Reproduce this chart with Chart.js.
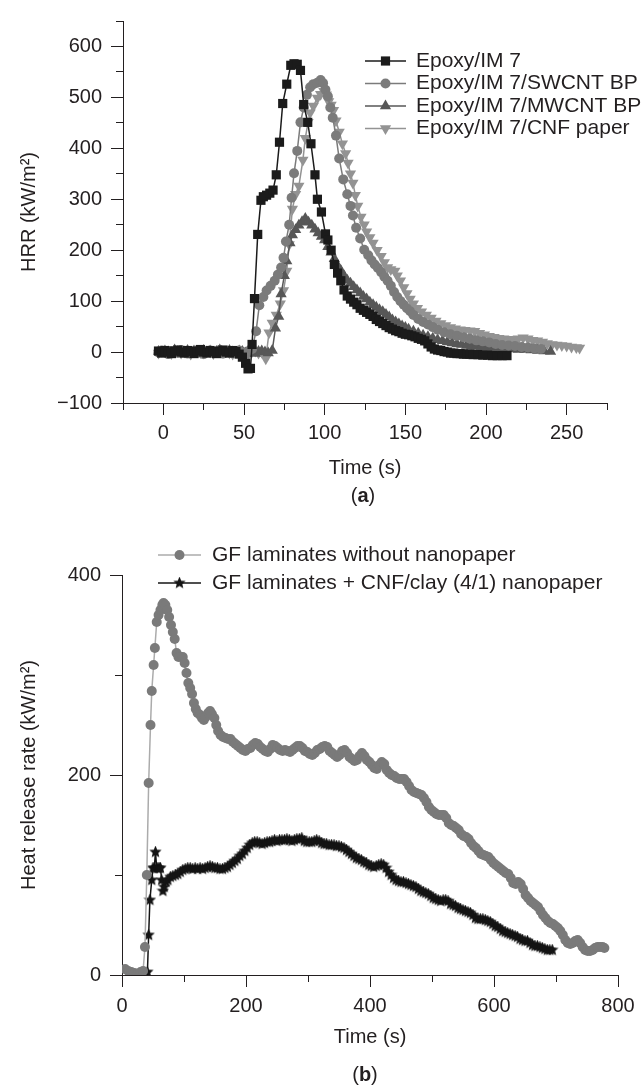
<!DOCTYPE html>
<html>
<head>
<meta charset="utf-8">
<title>HRR curves</title>
<script src="https://cdn.jsdelivr.net/npm/chart.js@4/dist/chart.umd.min.js"></script>
<style>
  html, body { margin: 0; padding: 0; background: #fff; }
  #wrapA { position: absolute; left: 0; top: 0; width: 642px; height: 520px; }
  #wrapB { position: absolute; left: 0; top: 540px; width: 642px; height: 546px; }
</style>
</head>
<body>
<div id="wrapA"><canvas id="chartA" width="642" height="520"></canvas></div>
<div id="wrapB"><canvas id="chartB" width="642" height="546"></canvas></div>
<script>
// ---------- panel (a): HRR vs time, epoxy/IM7 laminates ----------
const timeEpoxy = [
  -3, -1, 1, 3, 5, 7, 9, 11, 13, 15,
  17, 19, 21, 23, 25, 27, 29, 31, 33, 35,
  37, 39, 41, 43, 45, 47, 49, 51,
  52.5, 54, 55, 56.5, 58.5, 60.5, 62, 64, 66, 68,
  70, 72, 74, 76.5, 79, 81, 83, 85, 87, 89.5,
  91.5, 94, 95.5, 98, 100.5,
  102, 104, 106, 108, 110, 112, 114, 116, 118, 120,
  122, 124, 126, 128, 130, 132, 134, 136, 138, 140,
  142, 144, 146, 148, 150, 152, 154, 156, 158, 160,
  162, 164, 166, 168, 170, 172, 174, 176, 178, 180,
  182, 184, 186, 188, 190, 192,
  195, 198, 201, 204, 207, 210, 213
];
const hrrEpoxy = [
  2, -2, 3, 0, -3, 2, 4, 0, -2, 3,
  1, -3, 2, 5, 0, -2, 3, 1, -3, 2,
  4, 0, -2, 3, 1, -4, -10, -22,
  -33, -32, 15, 105, 231, 298, 305, 308, 312, 318,
  348, 412, 488, 526, 563, 566, 565, 553, 486, 451,
  409, 348, 300, 275, 232,
  220, 200, 172, 155, 140, 122, 110, 104, 98, 93,
  86, 82, 78, 74, 70, 64, 60, 56, 52, 48,
  45, 42, 40, 37, 35, 34, 32, 30, 27, 25,
  22, 16, 10, 6, 4, 3, 1, 0, -2, -2,
  -3, -3, -4, -4, -4, -5,
  -5, -6, -6, -7, -7, -7, -7
];

const timeSwcnt = [
  -3, -1, 1, 3, 5, 7, 9, 11, 13, 15,
  17, 19, 21, 23, 25, 27, 29, 31, 33, 35,
  37, 39, 41, 43, 45, 47, 49, 51, 53, 55,
  57.5, 59.5, 62, 64, 66.5, 69, 71, 73, 74.5, 76,
  78, 79.5, 81, 83, 85, 87, 89, 91, 93, 95.5,
  97.5, 99, 100.5, 102, 103.5, 105, 107, 109, 111.5, 114,
  116, 117.5, 119.5, 122, 124.5, 127, 129, 131, 133, 135,
  137, 139, 141, 143, 145, 147, 149, 151, 153, 155,
  158, 161, 164, 167, 170, 174, 178, 182, 186, 190,
  194, 198, 202, 206, 210, 214, 218, 222, 226, 230,
  234
];
const hrrSwcnt = [
  -1, 3, 0, -4, 2, 1, -2, 4, 0, -3,
  2, -1, 3, 0, -4, 1, 3, -2, 0, 4,
  -3, 1, 2, -2, 0, 3, -1, -4, 2, 6,
  41, 92, 108, 121, 130, 140, 152, 166, 185, 217,
  250, 303, 351, 395, 451, 480, 505, 520, 526, 529,
  534, 528, 515, 502, 480, 460, 425, 380, 339, 310,
  287, 268, 244, 223, 201, 190, 180, 172, 165, 157,
  148, 140, 130, 118, 108, 100, 93, 86, 80, 73,
  65, 59, 54, 49, 44, 39, 35, 32, 29, 26,
  23, 21, 19, 16, 14, 13, 12, 10, 9, 7,
  6
];

const timeMwcnt = [
  -3, -1, 1, 3, 5, 7, 9, 11, 13, 15,
  17, 19, 21, 23, 25, 27, 29, 31, 33, 35,
  37, 39, 41, 43, 45, 47, 49, 51, 53, 55,
  57, 59, 61, 63,
  65, 67.5, 69.5, 71.5, 73, 75, 76.5, 78.5, 80, 82,
  84, 86, 88, 90, 92, 94, 96, 98, 100, 102,
  104, 106, 108, 110, 112, 114, 116, 118, 120, 122,
  124, 126, 128, 130, 132, 134, 136, 138, 140, 142,
  144, 146, 148, 150, 152,
  155, 158, 161, 164, 167, 170, 173, 176, 179, 182,
  185, 188, 191, 194, 197, 200,
  204, 208, 212, 216, 220, 224, 228, 232, 236, 240
];
const hrrMwcnt = [
  1, -3, 2, 0, -2, 4, 1, -3, 0, 3,
  -2, 2, -1, -4, 3, 0, 2, -3, 1, 4,
  -1, -2, 3, 0, -3, 2, 1, -2, 4, 0,
  -3, 1, 2, 0,
  -2, 3, 47, 70, 114, 150, 179, 214, 230, 240,
  249, 256, 262, 255, 249, 241, 234, 227, 220, 207,
  196, 183, 170, 160, 150, 141, 135, 128, 122, 116,
  109, 104, 98, 93, 88, 83, 79, 74, 69, 63,
  59, 55, 51, 48, 45,
  41, 37, 33, 30, 27, 24, 22, 20, 18, 16,
  15, 13, 12, 11, 10, 9,
  8, 7, 6, 6, 5, 5, 4, 3, 2, 1
];

const timeCnf = [
  -3, -1, 1, 3, 5, 7, 9, 11, 13, 15,
  17, 19, 21, 23, 25, 27, 29, 31, 33, 35,
  37, 39, 41, 43, 45, 47, 49, 51, 53, 55,
  57, 59, 61,
  63.5, 65.5, 67.5, 70, 72.5, 74.5, 76.5, 78, 80, 82,
  84, 86.5, 88, 89.7, 91, 93, 95.5, 97.5, 99.5, 101,
  102.5, 104, 105.5, 107, 109, 111, 113, 114.5, 116, 117.5,
  119, 120.5, 122.5, 124.5, 126, 128, 130, 132.5, 135, 137,
  139, 141, 143.5, 145, 147, 149, 151, 153, 155, 157.5,
  160, 163, 166, 169, 172, 175, 178, 181, 184, 187,
  190, 193, 196, 199, 202, 205, 208, 211, 214, 217,
  220, 223, 226, 229, 232, 235, 238, 241, 244, 247,
  250, 253, 256, 258
];
const hrrCnf = [
  -2, 2, 4, -1, -3, 1, 3, -2, 0, 2,
  -4, 1, 3, -1, -2, 4, 0, -3, 2, 1,
  -1, 3, -2, -4, 2, 0, 3, -1, -3, 1,
  2, -2, 0,
  -13, 38, 57, 73, 95, 121, 159, 211, 281, 310,
  326, 377, 420, 451, 470, 483, 499, 506, 512, 505,
  492, 485, 475, 454, 432, 409, 390, 371, 350, 332,
  308, 287, 265, 250, 236, 225, 214, 200, 188, 176,
  166, 162, 159, 150, 140, 127, 115, 104, 95, 86,
  79, 73, 67, 61, 56, 52, 48, 46, 44, 43,
  42, 41, 37, 34, 31, 29, 27, 26, 25, 24,
  26, 28, 26, 23, 22, 20, 17, 15, 14, 13,
  12, 10, 9, 8
];

const xLabelsA = [0, 50, 100, 150, 200, 250];
const yLabelsA = [-100, 0, 100, 200, 300, 400, 500, 600];

// ---------- panel (b): GF laminates ----------
const timeGf = [
  5, 10, 15, 20, 25, 30, 34, 37, 40, 43,
  46, 48, 51, 53, 56, 59, 62, 65, 67, 70,
  73, 76, 79, 82, 85, 88, 91, 95, 98, 101,
  104, 107, 110, 113, 116, 119, 122, 126, 129, 132,
  135, 139, 142, 145, 149, 152, 155, 159, 163, 167,
  171, 175, 179, 183, 187, 191, 195, 199, 203, 207,
  211, 215, 219, 223, 227, 231, 235, 239, 243, 247,
  251, 255, 259, 263, 267, 271, 275, 279, 283, 287,
  291, 295, 299, 303, 307, 311, 315, 319, 323, 327,
  331, 335, 339, 343, 347, 351, 355, 359, 363, 367,
  371, 375, 379, 383, 387, 391, 395, 399, 403, 407,
  411, 415, 419, 423, 427, 431, 435, 439, 443, 447,
  451, 455, 459, 463, 467, 471, 475, 479, 483, 487,
  491, 495, 499, 503, 507, 511, 515, 519, 523, 527,
  531, 535, 539, 543, 547, 551, 555, 559, 563, 567,
  571, 575, 579, 583, 587, 591, 595, 599, 603, 607,
  611, 615, 619, 623, 627, 631, 635, 639, 643, 647,
  651, 655, 659, 663, 667, 671, 675, 679, 683, 687,
  691, 695, 699, 703, 707, 711, 715, 719, 723, 727,
  731, 735, 739, 743, 747, 751, 755, 759, 763, 767,
  771, 775, 778
];
const hrrGf = [
  6, 4, 3, 2, 1, 3, 4, 28, 100, 192,
  250, 284, 310, 327, 353, 360, 365, 370, 372, 370,
  365, 358, 350, 343, 336, 322, 318, 318, 318, 312,
  302, 292, 287, 281, 272, 266, 262, 260, 257, 255,
  258, 262, 264, 261, 257, 250, 244, 240, 238, 237,
  236, 236, 233, 231, 229, 227, 225, 224, 226, 227,
  230, 232, 231, 228, 226, 224, 223, 226, 230, 229,
  227, 225, 224, 225, 224, 223, 225, 227, 229, 229,
  227, 224, 223, 221, 220, 222, 225, 226, 228, 229,
  228, 224, 222, 220, 218, 220, 224, 225, 222, 218,
  216, 214, 215, 219, 222, 219, 215, 213, 210, 207,
  206, 210, 213, 211, 205, 202, 200, 199, 197, 196,
  196, 196, 193, 189, 185, 183, 182, 181, 180, 177,
  173, 168, 165, 163, 161, 160, 160, 160, 157, 152,
  150, 149, 147, 145, 141, 139, 138, 136, 132, 129,
  127, 124, 121, 120, 119, 118, 115, 112, 110, 108,
  106, 104, 102, 101, 97, 92, 91, 93, 91, 86,
  80, 77, 74, 72, 70, 68, 64, 60, 57, 54,
  52, 51, 49, 47, 44, 40, 35, 32, 31, 32,
  34, 35, 32, 28, 25, 24, 24, 25, 27, 28,
  28, 28, 27
];

const timeCnfClay = [
  38, 41, 43, 45, 48, 50, 52, 54, 56, 58,
  60, 62, 64, 66, 68, 71, 74, 78, 82, 86,
  90, 94, 98, 102, 106, 110, 114, 118, 122, 126,
  130, 134, 138, 142, 146, 150, 154, 158, 162, 166,
  170, 174, 178, 182, 186, 190, 194, 198, 202, 206,
  210, 214, 218, 222, 226, 230, 234, 238, 242, 246,
  250, 254, 258, 262, 266, 270, 274, 278, 282, 286,
  290, 294, 298, 302, 306, 310, 314, 318, 322, 326,
  330, 334, 338, 342, 346, 350, 354, 358, 362, 366,
  370, 374, 378, 382, 386, 390, 394, 398, 402, 406,
  410, 414, 418, 422, 426, 430, 434, 438, 442, 446,
  450, 454, 458, 462, 466, 470, 474, 478, 482, 486,
  490, 494, 498, 502, 506, 510, 514, 518, 522, 526,
  530, 534, 538, 542, 546, 550, 554, 558, 562, 566,
  570, 574, 578, 582, 586, 590, 594, 598, 602, 606,
  610, 614, 618, 622, 626, 630, 634, 638, 642, 646,
  650, 654, 658, 662, 666, 670, 674, 678, 682, 686,
  690, 694
];
const hrrCnfClay = [
  2, 3, 40, 75, 95, 107, 107, 123, 107, 107,
  107, 107, 95, 84, 88, 93, 95, 98, 99, 100,
  101, 103, 105, 106, 107, 107, 106, 107, 106, 107,
  106, 107, 108, 109, 108, 107, 107, 106, 106, 107,
  108, 110, 112, 114, 116, 119, 121, 124, 127, 130,
  132, 133, 133, 132, 131, 132, 133, 133, 134, 135,
  134, 135, 135, 135, 136, 135, 134, 135, 136, 136,
  137, 134, 133, 133, 133, 134, 135, 134, 132, 131,
  131, 130, 130, 130, 129, 129, 128, 127, 125, 123,
  121, 119, 117, 116, 115, 113, 112, 110, 109, 108,
  109, 110, 111, 110, 107, 103, 100, 97, 95, 94,
  93, 93, 92, 91, 90, 89, 88, 86, 84, 83,
  82, 81, 79, 77, 76, 75, 74, 75, 75, 74,
  71, 70, 69, 67, 66, 65, 64, 63, 62, 60,
  57, 56, 56, 56, 55, 54, 53, 51, 49, 48,
  46, 44, 43, 42, 41, 40, 39, 38, 36, 35,
  34, 34, 32, 30, 29, 29, 28, 27, 26, 25,
  25, 25
];

const xLabelsB = [0, 200, 400, 600, 800];
const yLabelsB = [0, 200, 400];

// ---------- shared look ----------
const FONT = '"Liberation Sans", Arial, Helvetica, sans-serif';
const INK = '#231f20';
Chart.defaults.font.family = FONT;
Chart.defaults.font.size = 20;
Chart.defaults.color = INK;

function pairs(xs, ys) {
  return xs.map((x, i) => ({ x: x, y: ys[i] }));
}

function fmt(v) {
  return String(v).replace('-', '\u2212');
}

// filled five point star used as marker
function makeStar(size, color) {
  const c = document.createElement('canvas');
  c.width = size; c.height = size;
  const g = c.getContext('2d');
  const R = size / 2, r = R * 0.45;
  g.fillStyle = color;
  g.beginPath();
  for (let i = 0; i < 10; i++) {
    const a = -Math.PI / 2 + i * Math.PI / 5;
    const rr = i % 2 ? r : R;
    g.lineTo(R + rr * Math.cos(a), R + rr * Math.sin(a));
  }
  g.closePath();
  g.fill();
  return c;
}

function axis(o) {
  return {
    type: 'linear',
    min: o.min,
    max: o.max,
    border: { display: true, color: INK, width: 1 },
    grid: {
      drawOnChartArea: false,
      drawTicks: true,
      tickLength: 12,
      lineWidth: 1,
      color: c => (c.tick && o.labels.includes(c.tick.value)) ? INK : 'rgba(0,0,0,0)'
    },
    ticks: {
      stepSize: o.step,
      autoSkip: false,
      maxRotation: 0,
      padding: o.tickPad,
      color: INK,
      font: { size: 20 },
      callback: v => o.labels.includes(v) ? fmt(v) : ''
    },
    title: { display: true, text: o.title, color: INK, font: { size: 20 }, padding: o.titlePad },
    afterFit: s => { if (o.horizontal) s.height = o.fit; else s.width = o.fit; }
  };
}

// short outward ticks for the unlabelled steps
const minorTicks = {
  id: 'minorTicks',
  afterDraw(chart) {
    const ctx = chart.ctx, xs = chart.scales.x, ys = chart.scales.y;
    const al = p => Math.round(p - 0.5) + 0.5;
    ctx.save();
    ctx.strokeStyle = INK;
    ctx.lineWidth = 1;
    xs.ticks.forEach(t => {
      if (t.label !== '') return;
      const px = al(xs.getPixelForValue(t.value));
      ctx.beginPath(); ctx.moveTo(px, xs.top); ctx.lineTo(px, xs.top + 7); ctx.stroke();
    });
    ys.ticks.forEach(t => {
      if (t.label !== '') return;
      const py = al(ys.getPixelForValue(t.value));
      ctx.beginPath(); ctx.moveTo(ys.right, py); ctx.lineTo(ys.right - 7, py); ctx.stroke();
    });
    ctx.restore();
  }
};

function drawMarker(ctx, ds, x, y) {
  const st = ds.pointStyle, r = ds.pointRadius;
  if (typeof st !== 'string') {
    ctx.drawImage(st, x - st.width / 2, y - st.height / 2);
    return;
  }
  ctx.fillStyle = ds.pointBackgroundColor;
  ctx.beginPath();
  if (st === 'rect') {
    const s = r * Math.SQRT1_2;
    ctx.rect(x - s, y - s, 2 * s, 2 * s);
  } else if (st === 'triangle') {
    let a = (ds.pointRotation || 0) * Math.PI / 180;
    for (let k = 0; k < 3; k++) {
      ctx.lineTo(x + Math.sin(a) * r, y - Math.cos(a) * r);
      a += 2 * Math.PI / 3;
    }
    ctx.closePath();
  } else {
    ctx.arc(x, y, r, 0, 2 * Math.PI);
  }
  ctx.fill();
}

const sideLegend = {
  id: 'sideLegend',
  afterDraw(chart, args, o) {
    const ctx = chart.ctx;
    ctx.save();
    ctx.font = o.fontSize + 'px ' + FONT;
    ctx.textBaseline = 'middle';
    ctx.textAlign = 'left';
    o.rows.forEach((y, i) => {
      const ds = chart.data.datasets[i];
      ctx.strokeStyle = ds.borderColor;
      ctx.lineWidth = ds.borderWidth;
      ctx.beginPath(); ctx.moveTo(o.x0, y); ctx.lineTo(o.x1, y); ctx.stroke();
      drawMarker(ctx, ds, (o.x0 + o.x1) / 2, y);
      ctx.fillStyle = INK;
      ctx.fillText(ds.label, o.textX, y);
    });
    ctx.restore();
  }
};

// "(a)" / "(b)" with bold letter
const panelTag = {
  id: 'panelTag',
  afterDraw(chart, args, o) {
    const ctx = chart.ctx, a = chart.chartArea;
    const reg = '20px ' + FONT, bold = 'bold 20px ' + FONT;
    ctx.save();
    ctx.textBaseline = 'middle';
    ctx.textAlign = 'left';
    ctx.fillStyle = INK;
    ctx.font = reg;
    const wp = ctx.measureText('(').width, wc = ctx.measureText(')').width;
    ctx.font = bold;
    const wl = ctx.measureText(o.letter).width;
    let x = (a.left + a.right) / 2 + o.dx - (wp + wl + wc) / 2;
    ctx.font = reg; ctx.fillText('(', x, o.y); x += wp;
    ctx.font = bold; ctx.fillText(o.letter, x, o.y); x += wl;
    ctx.font = reg; ctx.fillText(')', x, o.y);
    ctx.restore();
  }
};

function series(label, xs, ys, color, lineColor, style, radius, rotation) {
  return {
    label: label,
    data: pairs(xs, ys),
    showLine: true,
    borderColor: lineColor,
    borderWidth: 1.5,
    pointStyle: style,
    pointRadius: radius,
    pointRotation: rotation || 0,
    pointBackgroundColor: color,
    pointBorderColor: color,
    pointBorderWidth: 0,
    pointHoverRadius: radius
  };
}

// ---------- chart (a) ----------
new Chart(document.getElementById('chartA'), {
  type: 'scatter',
  data: {
    datasets: [
      series('Epoxy/IM 7', timeEpoxy, hrrEpoxy, '#1b1b1b', '#1b1b1b', 'rect', 6.5),
      series('Epoxy/IM 7/SWCNT BP', timeSwcnt, hrrSwcnt, '#7b7b7b', '#7b7b7b', 'circle', 5),
      series('Epoxy/IM 7/MWCNT BP', timeMwcnt, hrrMwcnt, '#575757', '#575757', 'triangle', 6.5),
      series('Epoxy/IM 7/CNF paper', timeCnf, hrrCnf, '#939393', '#939393', 'triangle', 6.5, 180)
    ]
  },
  options: {
    responsive: false,
    animation: false,
    layout: { padding: { top: 11, right: 35, left: 0, bottom: 0 } },
    scales: {
      x: axis({ min: -25, max: 275, step: 25, labels: xLabelsA, tickPad: 6, title: 'Time (s)',
                titlePad: { top: 0, bottom: 40 }, horizontal: true, fit: 117 }),
      y: axis({ min: -100, max: 650, step: 50, labels: yLabelsA, tickPad: 9, title: 'HRR (kW/m\u00b2)',
                titlePad: { top: 17, bottom: 0 }, horizontal: false, fit: 123 })
    },
    plugins: {
      legend: { display: false },
      tooltip: { enabled: false },
      sideLegend: { x0: 365, x1: 406, textX: 416, rows: [61, 83.5, 106, 128.5], fontSize: 21 },
      panelTag: { letter: 'a', y: 496, dx: -2 }
    }
  },
  plugins: [minorTicks, sideLegend, panelTag]
});

// ---------- chart (b) ----------
new Chart(document.getElementById('chartB'), {
  type: 'scatter',
  data: {
    datasets: [
      series('GF laminates without nanopaper', timeGf, hrrGf, '#7a7a7a', '#ababab', 'circle', 5),
      series('GF laminates + CNF/clay (4/1) nanopaper', timeCnfClay, hrrCnfClay, '#141414', '#141414', makeStar(13, '#141414'), 5)
    ]
  },
  options: {
    responsive: false,
    animation: false,
    layout: { padding: { top: 35, right: 24, left: 0, bottom: 0 } },
    scales: {
      x: axis({ min: 0, max: 800, step: 100, labels: xLabelsB, tickPad: 7, title: 'Time (s)',
                titlePad: { top: 0, bottom: 37 }, horizontal: true, fit: 111 }),
      y: axis({ min: 0, max: 400, step: 100, labels: yLabelsB, tickPad: 9, title: 'Heat release rate (kW/m\u00b2)',
                titlePad: { top: 17, bottom: 0 }, horizontal: false, fit: 122 })
    },
    plugins: {
      legend: { display: false },
      tooltip: { enabled: false },
      sideLegend: { x0: 158, x1: 201, textX: 212, rows: [15, 43], fontSize: 21 },
      panelTag: { letter: 'b', y: 535, dx: -5 }
    }
  },
  plugins: [minorTicks, sideLegend, panelTag]
});
</script>
</body>
</html>
